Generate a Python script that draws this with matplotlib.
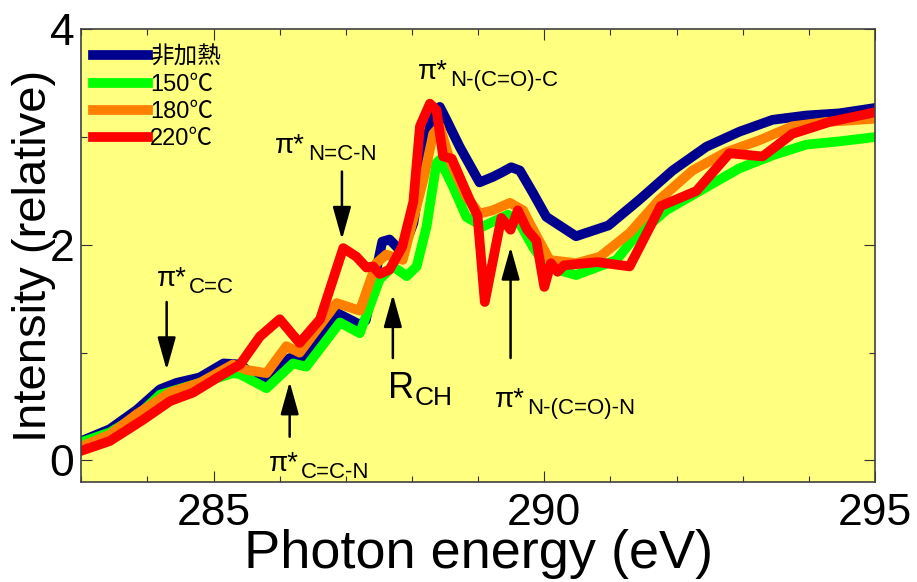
import matplotlib
matplotlib.use("Agg")
import matplotlib.pyplot as plt

plt.rcParams['font.family'] = ['Liberation Sans', 'Noto Sans CJK JP', 'DejaVu Sans']

# photon energy (eV) / intensity (relative)
e_none = [283.0, 283.43, 283.84, 284.19, 284.44, 284.79, 285.15, 285.40, 285.75, 286.15,
          286.40, 286.86, 287.21, 287.30, 287.55, 287.66, 287.85, 288.02, 288.22, 288.32,
          288.42, 288.52, 288.72, 289.02, 289.22, 289.35, 289.50, 289.63, 289.83, 290.03,
          290.48, 290.97, 291.44, 291.94, 292.45, 292.95, 293.45, 293.96, 294.46, 295.0]
i_none = [0.18, 0.29, 0.47, 0.66, 0.72, 0.77, 0.90, 0.89, 0.72, 0.95,
          0.94, 1.37, 1.26, 1.30, 2.03, 2.05, 1.93, 2.20, 2.97, 3.22,
          3.28, 3.16, 2.91, 2.58, 2.63, 2.67, 2.72, 2.69, 2.48, 2.26,
          2.08, 2.18, 2.42, 2.69, 2.91, 3.05, 3.16, 3.20, 3.22, 3.27]

e_150 = [283.0, 283.43, 283.84, 284.19, 284.79, 285.09, 285.29, 285.40, 285.80, 286.20,
         286.40, 286.91, 287.21, 287.51, 287.71, 287.92, 288.07, 288.22, 288.37, 288.42,
         288.62, 288.82, 289.07, 289.45, 289.60, 289.83, 290.03, 290.48, 291.09, 291.34,
         291.84, 292.35, 292.95, 293.45, 293.96, 294.46, 295.0]
i_150 = [0.17, 0.26, 0.41, 0.61, 0.72, 0.77, 0.81, 0.80, 0.67, 0.90,
         0.87, 1.28, 1.18, 1.68, 1.80, 1.71, 1.80, 2.17, 2.76, 2.79,
         2.54, 2.26, 2.17, 2.28, 2.23, 1.98, 1.80, 1.72, 1.86, 2.05,
         2.32, 2.50, 2.71, 2.83, 2.93, 2.96, 3.00]

e_180 = [283.0, 283.43, 283.84, 284.34, 284.79, 285.29, 285.50, 285.80, 286.10, 286.30,
         286.86, 287.21, 287.46, 287.61, 287.86, 288.17, 288.32, 288.42, 288.57, 288.82,
         289.02, 289.22, 289.48, 289.68, 289.78, 290.08, 290.48, 290.84, 291.29, 291.74,
         292.24, 292.75, 293.25, 293.75, 294.26, 295.0]
i_180 = [0.13, 0.24, 0.43, 0.63, 0.72, 0.89, 0.84, 0.81, 1.06, 1.00,
         1.46, 1.39, 1.83, 1.91, 1.86, 2.60, 3.03, 3.10, 2.79, 2.45,
         2.29, 2.32, 2.39, 2.32, 2.20, 1.86, 1.83, 1.89, 2.11, 2.42,
         2.69, 2.86, 2.97, 3.10, 3.14, 3.17]

e_220 = [283.0, 283.43, 283.94, 284.34, 284.69, 285.09, 285.40, 285.70, 286.00, 286.30,
         286.61, 286.96, 287.16, 287.31, 287.41, 287.51, 287.66, 287.85, 288.02, 288.12,
         288.27, 288.37, 288.47, 288.60, 288.87, 288.99, 289.10, 289.35, 289.49, 289.60,
         289.74, 289.88, 290.00, 290.10, 290.20, 290.30, 290.80, 291.29, 291.76, 292.30,
         292.80, 293.30, 293.75, 294.31, 295.0]
i_220 = [0.09, 0.18, 0.38, 0.55, 0.63, 0.78, 0.89, 1.15, 1.31, 1.09,
         1.31, 1.97, 1.89, 1.79, 1.80, 1.73, 1.77, 1.98, 2.40, 3.10,
         3.31, 3.25, 2.82, 2.80, 2.42, 2.27, 1.47, 2.25, 2.14, 2.32,
         2.14, 2.04, 1.61, 1.83, 1.75, 1.81, 1.84, 1.80, 2.36, 2.50,
         2.85, 2.82, 3.03, 3.14, 3.23]

labels = ['非加熱', '150℃', '180℃', '220℃']
colors = ['#00008F', '#00FF00', '#FF8000', '#FF0000']

# peak labels: (main, subscript, x, y) and arrows: (x, tail y, tip y)
peak_texts = [
    ('π*', 'C=C', 284.14, 1.62),
    ('π*', 'N=C-N', 285.93, 2.85),
    ('π*', 'N-(C=O)-C', 288.09, 3.54),
    ('π*', 'C=C-N', 285.83, -0.10),
    ('π*', 'N-(C=O)-N', 289.25, 0.50),
]
rch_text = ('R', 'CH', 287.63, 0.58)
arrows = [
    (284.29, 1.47, 0.84),
    (286.94, 2.68, 2.05),
    (287.71, 0.95, 1.54),
    (286.15, 0.22, 0.73),
    (289.49, 0.95, 1.98),
]

fig = plt.figure(figsize=(9.17, 5.82), dpi=100)
ax = fig.add_axes([0.0887, 0.1718, 0.8655, 0.7779])
ax.set_facecolor('#FFFF80')

series = [(e_none, i_none), (e_150, i_150), (e_180, i_180), (e_220, i_220)]
for (e, i), lab, c in zip(series, labels, colors):
    ax.plot(e, i, color=c, lw=7, label=lab)

for main, sub, x, y in peak_texts:
    ax.text(x, y, main, fontsize=20, ha='left', va='baseline')
    ax.annotate(sub, xy=(x, y), xytext=(23.5, -5), textcoords='offset points',
                fontsize=16, ha='left', va='baseline')

main, sub, x, y = rch_text
ax.text(x, y, main, fontsize=26, ha='left', va='baseline')
ax.annotate(sub, xy=(x, y), xytext=(19.5, -5), textcoords='offset points',
            fontsize=19, ha='left', va='baseline')

for x, y0, y1 in arrows:
    ax.annotate('', xy=(x, y1), xytext=(x, y0),
                arrowprops=dict(arrowstyle='-|>,head_length=1.0,head_width=0.28',
                                mutation_scale=20, lw=1.8, color='k',
                                shrinkA=0, shrinkB=0))

ax.set_xlim(283, 295)
ax.set_ylim(-0.2, 4.0)
ax.set_xticks([285, 290, 295])
ax.set_xticks(range(283, 296), minor=True)
ax.set_yticks([0, 2, 4])
ax.set_yticks([1, 3], minor=True)
ax.tick_params(which='both', direction='in', top=True, right=True, width=0.8, color='#303030')
ax.tick_params(which='major', length=8, labelsize=32)
ax.tick_params(which='minor', length=4.5)
ax.tick_params(axis='x', which='major', pad=8)
ax.tick_params(axis='y', which='major', pad=5)
for s in ax.spines.values():
    s.set_color('#404040')
    s.set_linewidth(1.2)

ax.set_xlabel('Photon energy (eV)', fontsize=39)
ax.set_ylabel('Intensity (relative)', fontsize=34)
ax.xaxis.set_label_coords(0.5, -0.104)
ax.yaxis.set_label_coords(-0.032, 0.5)

ax.legend(loc='upper left', bbox_to_anchor=(0.0147, 0.962), frameon=False,
          fontsize=17, borderpad=0, borderaxespad=0, labelspacing=0.22,
          handlelength=2.33, handletextpad=0.08)

plt.savefig('out.png', dpi=100)
